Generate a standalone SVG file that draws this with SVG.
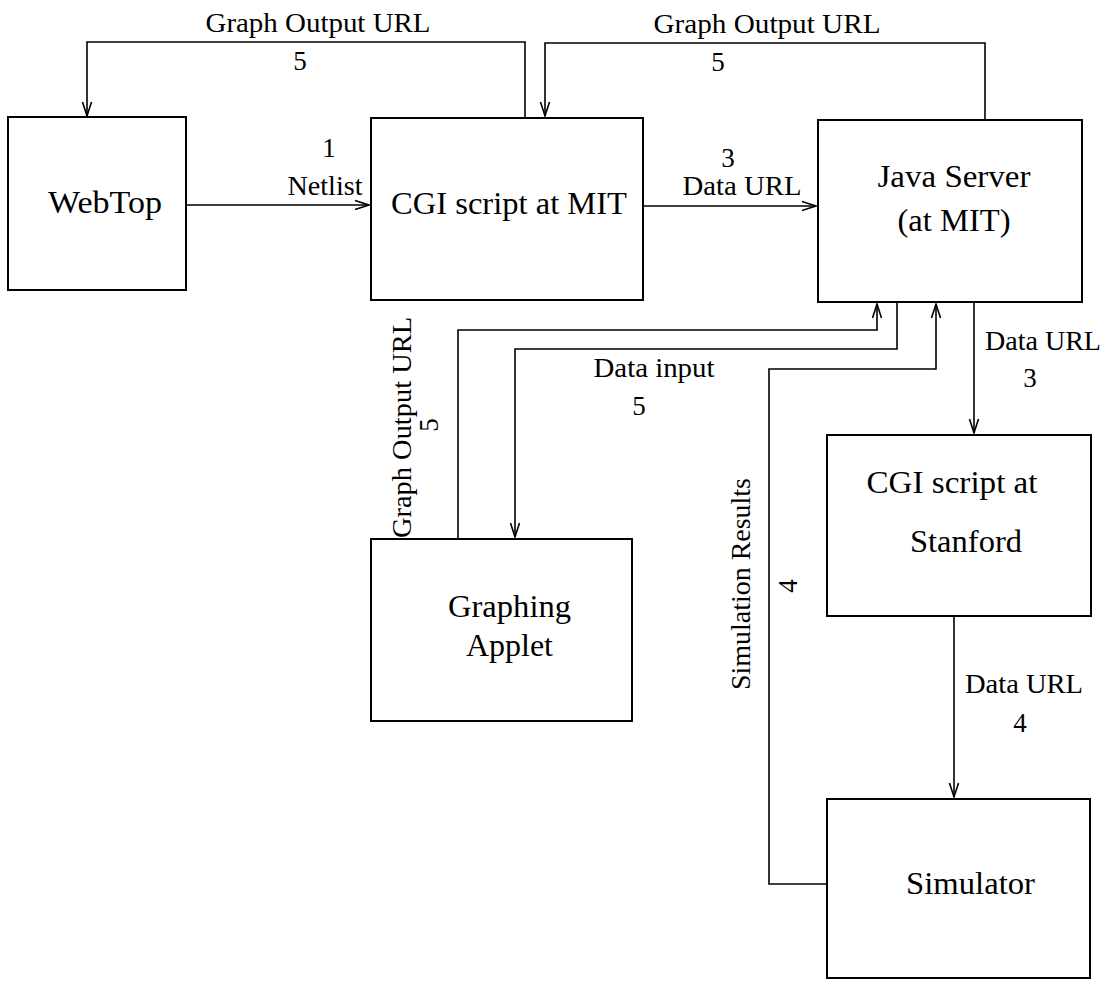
<svg xmlns="http://www.w3.org/2000/svg" width="1110" height="982" viewBox="0 0 1110 982">
  <style>
    .box { fill: #fff; stroke: #000; stroke-width: 2; }
    .wire { fill: none; stroke: #000; stroke-width: 1.6; }
    .node { font-family: "Liberation Serif", "Times New Roman", serif; font-size: 31px; fill: #000; text-anchor: middle; }
    .lbl { font-family: "Liberation Serif", "Times New Roman", serif; font-size: 27px; fill: #000; text-anchor: middle; }
  </style>
  <defs>
    <marker id="arrow" markerUnits="userSpaceOnUse" viewBox="-16 -8 18 16" refX="0" refY="0" markerWidth="18" markerHeight="16" orient="auto" overflow="visible">
      <path d="M -14 -4.5 L 0 0 L -14 4.5" fill="none" stroke="#000" stroke-width="1.6"/>
    </marker>
  </defs>

  <rect width="1110" height="982" fill="#fff"/>

  <!-- connectors -->
  <g id="connectors">
    <path class="wire" d="M 186 205 L 369 205" marker-end="url(#arrow)"/>
    <path class="wire" d="M 643 206 L 816 206" marker-end="url(#arrow)"/>
    <path class="wire" d="M 525 118 L 525 42 L 87 42 L 87 116" marker-end="url(#arrow)"/>
    <path class="wire" d="M 985 120 L 985 43 L 545 43 L 545 116" marker-end="url(#arrow)"/>
    <path class="wire" d="M 458 539 L 458 330 L 877 330 L 877 304" marker-end="url(#arrow)"/>
    <path class="wire" d="M 897 302 L 897 349 L 515 349 L 515 537" marker-end="url(#arrow)"/>
    <path class="wire" d="M 827 884 L 769 884 L 769 369 L 936 369 L 936 304" marker-end="url(#arrow)"/>
    <path class="wire" d="M 974 302 L 974 433" marker-end="url(#arrow)"/>
    <path class="wire" d="M 954 616 L 954 797" marker-end="url(#arrow)"/>

    <!-- connector labels -->
    <text class="lbl" x="318" y="32" textLength="225" lengthAdjust="spacingAndGlyphs">Graph Output URL</text>
    <text class="lbl" x="300" y="70">5</text>
    <text class="lbl" x="767" y="33" textLength="227" lengthAdjust="spacingAndGlyphs">Graph Output URL</text>
    <text class="lbl" x="718" y="71">5</text>
    <text class="lbl" x="329" y="157">1</text>
    <text class="lbl" x="325" y="195" textLength="75" lengthAdjust="spacingAndGlyphs">Netlist</text>
    <text class="lbl" x="495" y="147">2</text>
    <text class="lbl" x="728" y="167">3</text>
    <text class="lbl" x="742" y="195" textLength="119" lengthAdjust="spacingAndGlyphs">Data URL</text>
    <text class="lbl" x="654" y="377" textLength="121" lengthAdjust="spacingAndGlyphs">Data input</text>
    <text class="lbl" x="639" y="415">5</text>
    <text class="lbl" x="1043" y="350" textLength="116" lengthAdjust="spacingAndGlyphs">Data URL</text>
    <text class="lbl" x="1030" y="387">3</text>
    <text class="lbl" x="1024" y="693" textLength="118" lengthAdjust="spacingAndGlyphs">Data URL</text>
    <text class="lbl" x="1020" y="732">4</text>
    <text class="lbl" transform="translate(411 427.5) rotate(-90)" textLength="221" lengthAdjust="spacingAndGlyphs">Graph Output URL</text>
    <text class="lbl" transform="translate(438 425) rotate(-90)">5</text>
    <text class="lbl" transform="translate(750 584) rotate(-90)" textLength="212" lengthAdjust="spacingAndGlyphs">Simulation Results</text>
    <text class="lbl" transform="translate(797 586) rotate(-90)">4</text>
  </g>

  <!-- nodes -->
  <g id="webtop">
    <rect class="box" x="8" y="117" width="178" height="173"/>
    <text class="node" x="105" y="213" textLength="114" lengthAdjust="spacingAndGlyphs">WebTop</text>
  </g>
  <g id="cgi-mit">
    <rect class="box" x="371" y="118" width="272" height="182"/>
    <text class="node" x="509" y="214" textLength="236" lengthAdjust="spacingAndGlyphs">CGI script at MIT</text>
  </g>
  <g id="java-server">
    <rect class="box" x="818" y="120" width="264" height="182"/>
    <text class="node" x="954" y="187" textLength="153" lengthAdjust="spacingAndGlyphs">Java Server</text>
    <text class="node" x="954" y="231" textLength="113" lengthAdjust="spacingAndGlyphs">(at MIT)</text>
  </g>
  <g id="graphing-applet">
    <rect class="box" x="371" y="539" width="261" height="182"/>
    <text class="node" x="509.5" y="617" textLength="123" lengthAdjust="spacingAndGlyphs">Graphing</text>
    <text class="node" x="509.5" y="656" textLength="87" lengthAdjust="spacingAndGlyphs">Applet</text>
  </g>
  <g id="cgi-stanford">
    <rect class="box" x="827" y="435" width="264" height="181"/>
    <text class="node" x="952" y="493" textLength="171" lengthAdjust="spacingAndGlyphs">CGI script at</text>
    <text class="node" x="966" y="552" textLength="112" lengthAdjust="spacingAndGlyphs">Stanford</text>
  </g>
  <g id="simulator">
    <rect class="box" x="827" y="799" width="263" height="179"/>
    <text class="node" x="970.5" y="894" textLength="129" lengthAdjust="spacingAndGlyphs">Simulator</text>
  </g>
</svg>
